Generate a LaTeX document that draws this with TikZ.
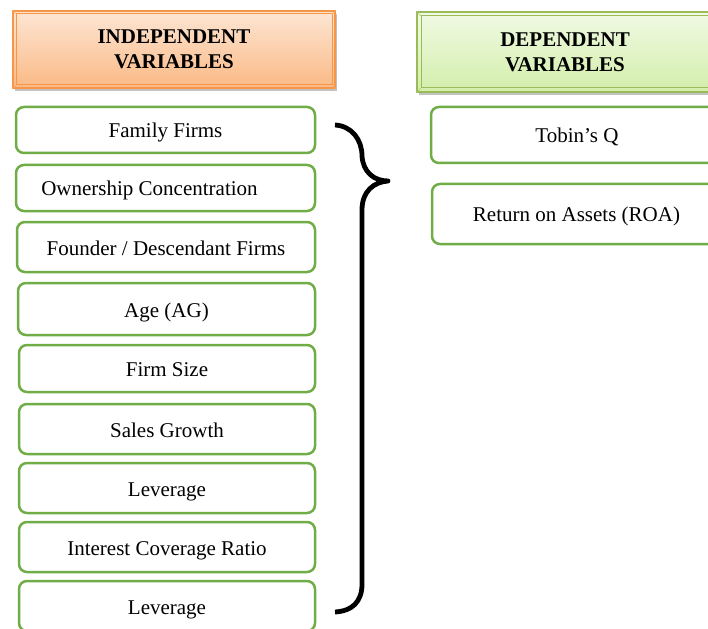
\documentclass[tikz,border=0pt]{standalone}
\usepackage{fontspec}
\setmainfont{Liberation Serif}
\usetikzlibrary{shadows}
\definecolor{orgline}{HTML}{F79646}
\definecolor{orgtop}{HTML}{FDE6D4}
\definecolor{orgbot}{HTML}{FAB985}
\definecolor{grnline}{HTML}{9BBB59}
\definecolor{grntop}{HTML}{F0FAE4}
\definecolor{grnbot}{HTML}{D3EEAA}
\definecolor{boxline}{HTML}{70AD47}
\tikzset{
  varbox/.style={draw=boxline, line width=2.5pt, rounded corners=8pt, fill=white,
    font=\fontsize{21}{25}\selectfont, text height=16pt, text depth=0pt, inner sep=0pt},
  hdrbox/.style={line width=2pt, font=\fontsize{21}{25}\selectfont\bfseries,
    align=center, inner sep=0pt,
    drop shadow={shadow xshift=2pt, shadow yshift=-3pt, opacity=.4, fill=black!60}},
  hdrO/.style={hdrbox, draw=orgline, top color=orgtop, bottom color=orgbot},
  hdrG/.style={hdrbox, draw=grnline, top color=grntop, bottom color=grnbot},
  bracestyle/.style={line width=4.8pt, black, line join=round}
}
\begin{document}
\begin{tikzpicture}[x=1pt,y=-1pt]
\useasboundingbox (0,0) rectangle (708,628);
\clip (0,0) rectangle (708,628);
% headers
\node[hdrO, minimum width=322, minimum height=77] (h1) at (174,49.5) {INDEPENDENT\\VARIABLES};
\draw[orgline, line width=1pt] ([shift={(4,4)}]h1.north west) rectangle ([shift={(-4,-4)}]h1.south east);
\draw[orgline!80, line width=0.6pt] (h1.north west) -- ([shift={(4,4)}]h1.north west)
  (h1.south west) -- ([shift={(4,-4)}]h1.south west)
  (h1.north east) -- ([shift={(-4,4)}]h1.north east)
  (h1.south east) -- ([shift={(-4,-4)}]h1.south east);
\node[hdrG, minimum width=296, minimum height=80] (h2) at (565,52) {DEPENDENT\\VARIABLES};
\draw[grnline, line width=1pt] ([shift={(5,5)}]h2.north west) rectangle ([shift={(-5,-5)}]h2.south east);
\draw[grnline!80, line width=0.6pt] (h2.north west) -- ([shift={(5,5)}]h2.north west)
  (h2.south west) -- ([shift={(5,-5)}]h2.south west)
  (h2.north east) -- ([shift={(-5,5)}]h2.north east)
  (h2.south east) -- ([shift={(-5,-5)}]h2.south east);
% independent variables
\node[varbox, minimum width=299, minimum height=46] (v1) at (165.5,130) {Family Firms};
\node[varbox, minimum width=299, minimum height=46] (v2) at (165.5,188) {\hspace*{-32pt}Ownership Concentration};
\node[varbox, minimum width=298, minimum height=50] (v3) at (166,247) {Founder / Descendant Firms};
\node[varbox, minimum width=297, minimum height=52] (v4) at (166.5,309) {Age (AG)};
\node[varbox, minimum width=296, minimum height=47] (v5) at (167,368.5) {Firm Size};
\node[varbox, minimum width=296, minimum height=50] (v6) at (167,429) {Sales Growth};
\node[varbox, minimum width=296, minimum height=50] (v7) at (167,488) {Leverage};
\node[varbox, minimum width=296, minimum height=50] (v8) at (167,547) {Interest Coverage Ratio};
\node[varbox, minimum width=296, minimum height=50] (v9) at (167,606) {Leverage};
% dependent variables
\node[varbox, minimum width=292, minimum height=56] (d1) at (577,135) {Tobin’s Q};
\node[varbox, minimum width=289, minimum height=60] (d2) at (576.5,214) {Return on Assets (ROA)};
% brace
\coordinate (btop) at (335,125);
\coordinate (btip) at (388,181);
\coordinate (bbot) at (335,612);
\draw[bracestyle] (btop) .. controls (352,126) and (362,140) .. (362,156)
  .. controls (363,172) and (374,181) .. (btip)
  .. controls (374,182) and (362,191) .. (362,210)
  -- (362,584) .. controls (362,602) and (352,611) .. (bbot);
\end{tikzpicture}
\end{document}
